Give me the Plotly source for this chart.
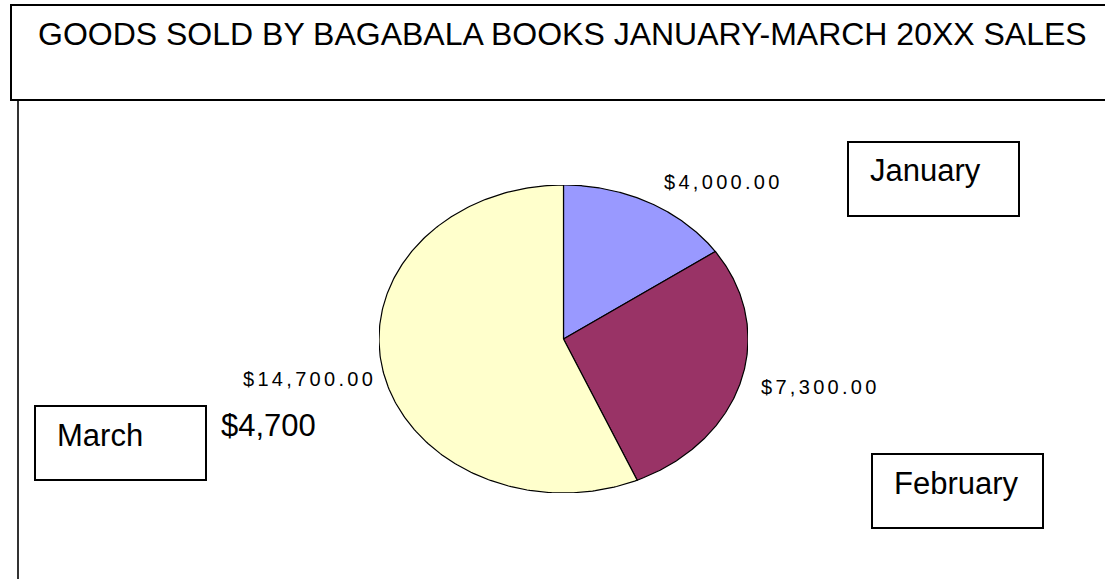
import numpy as np
import plotly.graph_objects as go

W, H = 1105, 579

title_text = "GOODS SOLD BY BAGABALA BOOKS JANUARY-MARCH 20XX SALES"
months = ["January", "February", "March"]
sales = [4000, 7300, 14700]
slice_colors = ["#9999FF", "#993366", "#FFFFCC"]
stray_note = "$4,700"

FONT = "Liberation Sans, Arial, Helvetica, sans-serif"


def px(x):
    return x / W


def py(y):
    return 1 - y / H


fig = go.Figure()

# Pie slices drawn as filled ellipse sectors (start at 12 o'clock, clockwise)
total = float(sum(sales))
cum = 0.0
for m, v, c in zip(months, sales, slice_colors):
    a0 = cum / total * 2 * np.pi
    a1 = (cum + v) / total * 2 * np.pi
    t = np.linspace(a0, a1, 240)
    xs = np.concatenate([[0.0], np.sin(t), [0.0]])
    ys = np.concatenate([[0.0], np.cos(t), [0.0]])
    fig.add_trace(go.Scatter(
        x=xs, y=ys, mode="lines", fill="toself", fillcolor=c,
        line=dict(color="#000000", width=1.2), name=m,
        hoverinfo="name", showlegend=False,
    ))
    cum += v

shapes = []
annotations = []

# Title box and left frame line
shapes.append(dict(type="rect", xref="paper", yref="paper",
                   x0=px(11), x1=px(1110), y0=py(100), y1=py(5),
                   line=dict(color="#000000", width=2), fillcolor="rgba(0,0,0,0)", layer="above"))
shapes.append(dict(type="line", xref="paper", yref="paper",
                   x0=px(18), x1=px(18), y0=py(101), y1=py(585),
                   line=dict(color="#333333", width=2)))

annotations.append(dict(text=title_text, xref="paper", yref="paper",
                        x=px(36), y=py(34.5), xanchor="left", yanchor="middle",
                        showarrow=False, font=dict(family=FONT, size=32, color="#000000")))

# Month text boxes
box_pos = {"January": (848, 142), "February": (872, 454), "March": (35, 406)}
BW, BH = 171, 74
for m in months:
    bx, by = box_pos[m]
    shapes.append(dict(type="rect", xref="paper", yref="paper",
                       x0=px(bx), x1=px(bx + BW), y0=py(by + BH), y1=py(by),
                       line=dict(color="#000000", width=2), fillcolor="rgba(0,0,0,0)"))
    annotations.append(dict(text=m, xref="paper", yref="paper",
                            x=px(bx + 20), y=py(by + 29), xanchor="left", yanchor="middle",
                            showarrow=False, font=dict(family=FONT, size=31, color="#000000")))

# Data labels
label_pos = {"January": (723, 182), "February": (820, 387), "March": (309, 379)}
for m, v in zip(months, sales):
    lx, ly = label_pos[m]
    txt = '<span style="letter-spacing:3.3px">' + "${:,.2f}".format(v) + "</span>"
    annotations.append(dict(text=txt, xref="paper", yref="paper",
                            x=px(lx), y=py(ly), xanchor="center", yanchor="middle",
                            showarrow=False, font=dict(family=FONT, size=20, color="#000000")))

# Stray note
annotations.append(dict(text=stray_note, xref="paper", yref="paper",
                        x=px(219), y=py(426), xanchor="left", yanchor="middle",
                        showarrow=False, font=dict(family=FONT, size=31, color="#000000")))

fig.update_layout(
    width=W, height=H,
    margin=dict(l=0, r=0, t=0, b=0),
    paper_bgcolor="#FFFFFF", plot_bgcolor="rgba(0,0,0,0)",
    showlegend=False,
    xaxis=dict(range=[-1, 1], domain=[px(379), px(748)], visible=False, fixedrange=True),
    yaxis=dict(range=[-1, 1], domain=[py(493), py(185)], visible=False, fixedrange=True),
    shapes=shapes, annotations=annotations,
)

fig.write_html("out.html", config={"displayModeBar": False},
               post_script="document.body.style.margin='0';document.body.style.overflow='hidden';")
